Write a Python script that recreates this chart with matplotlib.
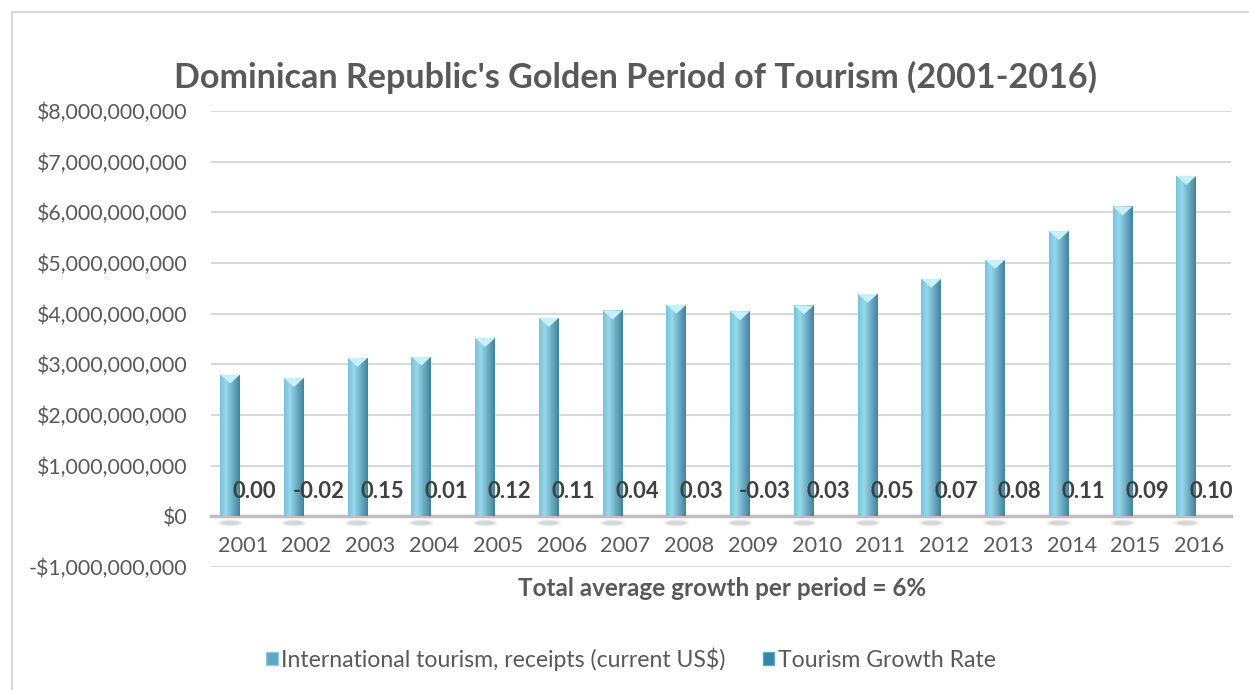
import numpy as np
import matplotlib
matplotlib.use("Agg")
import matplotlib.pyplot as plt
from matplotlib.patches import Polygon, Ellipse, Patch, Rectangle
from matplotlib.ticker import FuncFormatter

years = ["2001", "2002", "2003", "2004", "2005", "2006", "2007", "2008",
         "2009", "2010", "2011", "2012", "2013", "2014", "2015", "2016"]
receipts = [2.798e9, 2.730e9, 3.128e9, 3.152e9, 3.518e9, 3.917e9, 4.064e9, 4.176e9,
            4.049e9, 4.162e9, 4.390e9, 4.688e9, 5.064e9, 5.630e9, 6.116e9, 6.720e9]
growth = [0.00, -0.02, 0.15, 0.01, 0.12, 0.11, 0.04, 0.03,
          -0.03, 0.03, 0.05, 0.07, 0.08, 0.11, 0.09, 0.10]
title = "Dominican Republic's Golden Period of Tourism (2001-2016)"
xlabel = "Total average growth per period = 6%"
series_names = ["International tourism, receipts (current US$)", "Tourism Growth Rate"]

FONT = "Lato"
GREY = "#595959"

W, H, DPI = 1249, 690, 100
fig = plt.figure(figsize=(W / DPI, H / DPI), dpi=DPI)
fig.patch.set_facecolor("white")

# chart border
fig.add_artist(Rectangle((12 / W, -0.01), 1.05, 1 - 12 / H + 0.01, transform=fig.transFigure,
                         fill=False, edgecolor="#d9d9d9", lw=1.5))

ax = fig.add_axes([211 / W, 1 - 567 / H, (1231 - 211) / W, (567 - 111) / H])
ax.set_xlim(-0.5, len(years) - 0.5)
ax.set_ylim(-1e9, 8e9)
for name in ("top", "left", "right"):
    ax.spines[name].set_visible(False)
# category axis sits on the zero line
ax.spines["bottom"].set_position(("data", 0))
ax.spines["bottom"].set_color("#bfbfbf")
ax.spines["bottom"].set_linewidth(2.5)
ax.spines["bottom"].set_zorder(2.5)

ax.set_yticks(np.arange(-1e9, 8.01e9, 1e9))
ax.yaxis.set_major_formatter(FuncFormatter(
    lambda v, p: ("-$" if v < 0 else "$") + f"{abs(v):,.0f}"))
ax.grid(axis="y", color="#d9d9d9", lw=1.5, zorder=0)
ax.set_axisbelow(True)
ax.tick_params(axis="both", length=0, colors=GREY)
ax.tick_params(axis="y", pad=17, labelsize=15.3)
ax.tick_params(axis="x", pad=14.5, labelsize=15.6)
x = np.arange(len(years))
ax.set_xticks(x)
ax.set_xticklabels(years)
for lab in ax.get_xticklabels() + ax.get_yticklabels():
    lab.set_fontfamily(FONT)

bw = 0.31
off = 0.2
bars = ax.bar(x - off, receipts, width=bw, color="#6fb8d2", zorder=3, lw=0)
gbars = ax.bar(x + off, growth, width=bw, color="#3b8fae", zorder=3, lw=0)

# cylinder-like shading for each receipts bar
grad = np.linspace(0, 1, 64)
c_light = np.array([0x96, 0xd8, 0xec]) / 255
c_mid = np.array([0x7a, 0xc2, 0xdb]) / 255
c_dark = np.array([0x42, 0x82, 0x9b]) / 255
cols = []
for t in grad:
    if t < 0.3:
        c = c_mid + (c_light - c_mid) * (t / 0.3)
    else:
        c = c_light + (c_dark - c_light) * ((t - 0.3) / 0.7)
    cols.append(c)
img = np.array(cols)[None, :, :]

px_per_y = (567 - 111) / 9e9
for b in bars:
    bx, bwid, bh = b.get_x(), b.get_width(), b.get_height()
    im = ax.imshow(img, extent=[bx, bx + bwid, 0, bh], aspect="auto",
                   zorder=3.5, interpolation="bilinear")
    im.set_clip_path(b)
    d = 9 / px_per_y
    cap = Polygon([(bx, bh), (bx + bwid, bh), (bx + bwid / 2, bh - d)],
                  closed=True, facecolor="#c8f0fa", edgecolor="none", zorder=4)
    ax.add_patch(cap)
    # soft shadow beneath the bar
    for k in range(6):
        ax.add_patch(Ellipse((bx + bwid / 2, -0.13e9), bwid * (1.3 - k * 0.1),
                             (0.12e9) * (1.2 - k * 0.15), facecolor="#303030",
                             edgecolor="none", alpha=0.035, zorder=2))

for b, g in zip(gbars, growth):
    ax.annotate(f"{g:.2f}", xy=(b.get_x() + b.get_width() / 2, g),
                xytext=(-1, 25), textcoords="offset pixels", ha="center", va="center",
                fontsize=15.8, fontweight="bold", color="#404040", fontfamily=FONT,
                zorder=6)

fig.text(635 / W, 1 - 77 / H, title, ha="center", va="center", fontsize=24.6,
         fontweight="bold", color=GREY, fontfamily=FONT)
fig.text(722 / W, 1 - 588 / H, xlabel, ha="center", va="center", fontsize=17.5,
         fontweight="bold", color=GREY, fontfamily=FONT)

handles = [Patch(facecolor="#5aa9c6", edgecolor="#8fc9dd"),
           Patch(facecolor="#2f86a6", edgecolor="#5aa9c6")]
leg = fig.legend(handles, series_names, loc="center", bbox_to_anchor=(631 / W, 1 - 659 / H),
                 ncol=2, frameon=False, handlelength=0.5, handleheight=0.5,
                 handletextpad=0.15, columnspacing=1.6,
                 prop={"family": FONT, "size": 16.6})
for t in leg.get_texts():
    t.set_color(GREY)

fig.savefig("out.png", dpi=DPI, facecolor="white")
